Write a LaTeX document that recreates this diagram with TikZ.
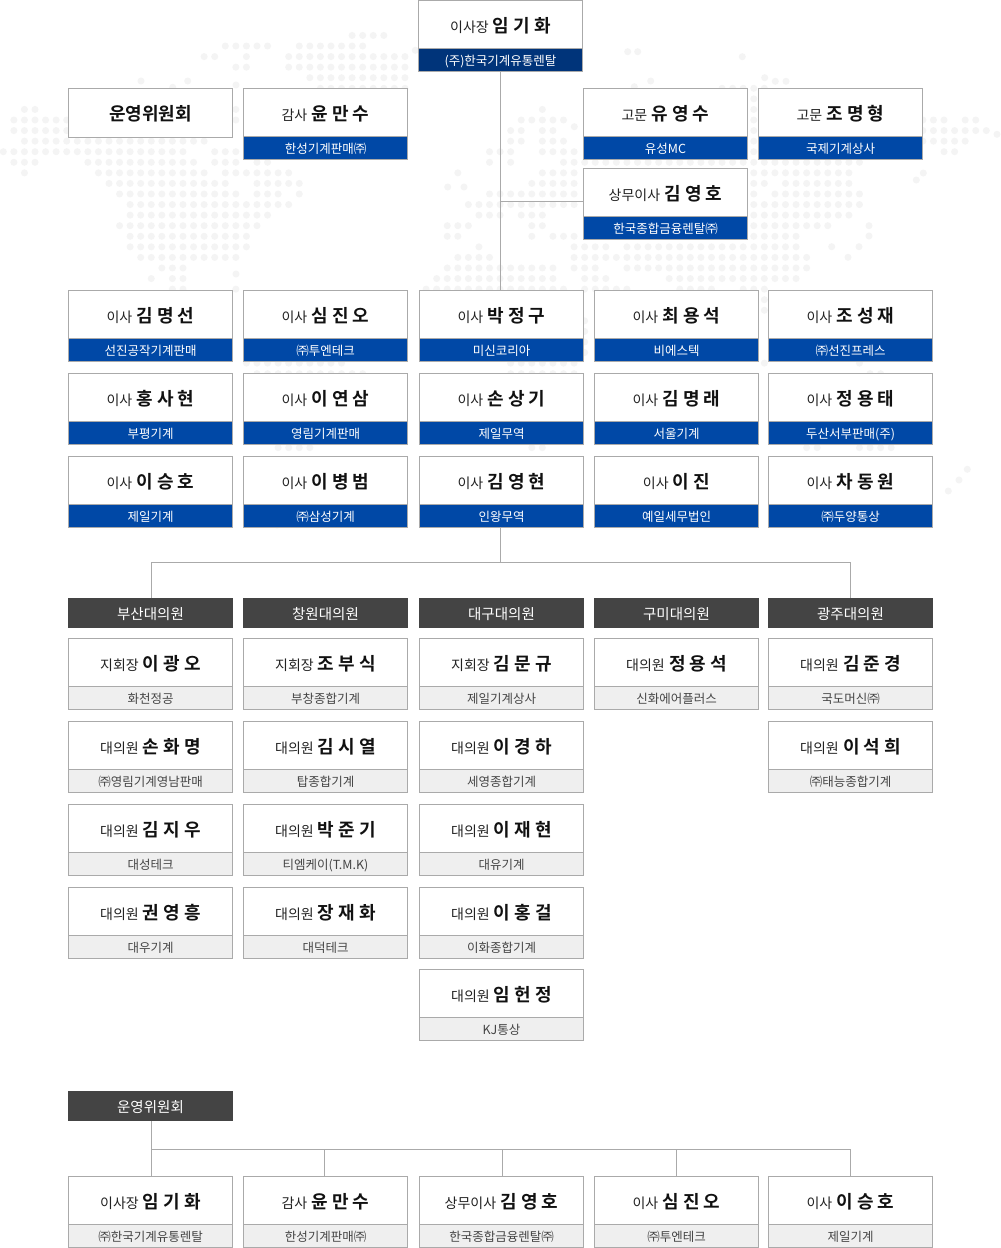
\documentclass[tikz,border=0pt]{standalone}
\usepackage{fontspec}
\setmainfont{Noto Sans CJK KR}
\newfontfamily\krbold{Noto Sans CJK KR Bold}
\definecolor{edgegray}{HTML}{AAAAAA}
\definecolor{dotgray}{HTML}{F4F4F4}
\definecolor{navy}{HTML}{00347A}
\definecolor{royal}{HTML}{0048A6}
\definecolor{darkhead}{HTML}{444444}
\definecolor{paleband}{HTML}{EFEFEF}
\definecolor{nameink}{HTML}{111111}
\definecolor{titleink}{HTML}{222222}
\definecolor{paleink}{HTML}{444444}
\tikzset{
  bodybox/.style={draw=edgegray,line width=1pt,fill=white,minimum width=164pt,minimum height=48pt,inner sep=0pt,outer sep=0pt,anchor=north west,text=nameink,text height=17.2pt,text depth=1pt},
  bandbox/.style={draw=edgegray,line width=1pt,minimum width=164pt,minimum height=23pt,inner sep=0pt,outer sep=0pt,anchor=north west,font=\fontsize{12.5}{14}\selectfont,text height=10.5pt,text depth=0.5pt},
  blueband/.style={bandbox,fill=royal,text=white},
  navyband/.style={bandbox,fill=navy,text=white},
  paleband/.style={bandbox,fill=paleband,text=paleink},
  headbox/.style={fill=darkhead,text=white,minimum width=165pt,minimum height=30pt,inner sep=0pt,outer sep=0pt,anchor=north west,font=\fontsize{14.5}{16}\selectfont,text height=13pt,text depth=0pt},
  wire/.style={draw=edgegray,line width=1pt},
  x=1pt,y=-1pt
}
\newcommand{\personbox}[7]{%
  \node[bodybox] (#1) at (#2,#3) {\textcolor{titleink}{\fontsize{14}{18}\selectfont #4}\hspace{4.2pt}{\fontsize{18}{18}\selectfont\krbold #5}};
  \node[#7] (#1-s) at (#1.south west) {#6};
}
\begin{document}
\begin{tikzpicture}
\useasboundingbox (0,0) rectangle (1001,1248);
\fill[white] (0,0) rectangle (1001,1248);
% world-map dots
\foreach \r/\a/\b in {-8/33/36,-7/21/25,-7/28/34,-6/19/20,-6/23/23,-6/27/38,-5/22/23,-5/27/38,-4/29/38,-3/30/38,-3/68/72,-2/71/71,
 -1/2/3,-1/22/22,-1/51/51,-1/71/71,0/1/6,0/22/22,0/49/53,0/71/71,0/87/89,0/91/92,
 1/1/6,1/48/49,1/51/52,1/71/71,1/87/93,2/2/19,2/48/49,2/51/53,2/71/71,2/87/91,
 3/0/17,3/20/22,3/46/48,3/51/54,3/71/71,3/89/90,
 4/1/3,4/8/18,4/20/22,4/24/25,4/46/46,4/48/48,4/53/81,
 5/2/2,5/9/19,5/21/27,5/43/43,5/51/54,5/71/80,
 6/10/21,6/24/28,6/50/54,6/71/72,6/74/80,
 7/11/22,7/24/26,7/28/28,7/46/54,7/71/71,7/73/81,
 8/12/27,8/44/54,8/71/81,9/12/25,9/45/47,9/49/51,9/71/80,
 10/11/24,10/42/44,10/50/51,10/71/78,11/12/23,11/42/43,11/50/50,11/52/54,11/71/75,
 12/12/23,12/45/45,12/54/57,12/59/75,13/13/22,13/43/46,13/54/76,
 14/15/17,14/42/52,14/54/56,14/59/76,15/14/14,15/16/17,15/41/52,15/55/57,15/63/75,
 16/16/17,16/22/22,16/40/53,16/55/59,16/64/67,16/70/72,
 17/72/72,18/72/72,19/55/55,20/55/55,21/55/55,22/55/55,
 23/23/32,23/48/54,23/72/72,23/81/81,24/24/34,24/48/54,24/82/83,
 31/26/29,31/50/51,31/76/77,31/81/84}{
  \foreach \k in {\a,...,\b}{
    \fill[dotgray] ({3.3+10.57*\k},{120+10.57*\r}) circle[radius=3.5pt];
  }
}
\foreach \px/\py in {141/81,187.7/81,236/85,172.7/87.3,415.3/50.3,627.7/51.7,637.7/51.7,650.7/81,634.3/86.7,742.3/56.7,764.7/77.7,775.3/81.3,786/81.3,574.3/126.7,447.7/187,464/187,236/274,923.3/173,916.3/180,997/134.3,869/225.7,869/236,831.7/246.7,859/246.7,848/257.3,967.3/469.3,959/480,948.3/491,277/525}{
  \fill[dotgray] (\px,\py) circle[radius=3.5pt];
}
% top group
\personbox{chair}{418.5}{0.5}{이사장}{임 기 화}{(주)한국기계유통렌탈}{navyband}
\node[bodybox,minimum height=49pt,text height=16pt,text depth=1.4pt] (opsbox) at (68.5,88.5) {\fontsize{18}{18}\selectfont\krbold 운영위원회};
\personbox{audit}{243.5}{88.5}{감사}{윤 만 수}{한성기계판매㈜}{blueband}
\personbox{advA}{583.5}{88.5}{고문}{유 영 수}{유성MC}{blueband}
\personbox{advB}{758.5}{88.5}{고문}{조 명 형}{국제기계상사}{blueband}
\personbox{exec}{583.5}{168.5}{상무이사}{김 영 호}{한국종합금융렌탈㈜}{blueband}
% directors
\personbox{d11}{68.5}{290.5}{이사}{김 명 선}{선진공작기계판매}{blueband}
\personbox{d12}{243.5}{290.5}{이사}{심 진 오}{㈜투엔테크}{blueband}
\personbox{d13}{419.5}{290.5}{이사}{박 정 구}{미신코리아}{blueband}
\personbox{d14}{594.5}{290.5}{이사}{최 용 석}{비에스텍}{blueband}
\personbox{d15}{768.5}{290.5}{이사}{조 성 재}{㈜선진프레스}{blueband}
\personbox{d21}{68.5}{373.5}{이사}{홍 사 현}{부평기계}{blueband}
\personbox{d22}{243.5}{373.5}{이사}{이 연 삼}{영림기계판매}{blueband}
\personbox{d23}{419.5}{373.5}{이사}{손 상 기}{제일무역}{blueband}
\personbox{d24}{594.5}{373.5}{이사}{김 명 래}{서울기계}{blueband}
\personbox{d25}{768.5}{373.5}{이사}{정 용 태}{두산서부판매(주)}{blueband}
\personbox{d31}{68.5}{456.5}{이사}{이 승 호}{제일기계}{blueband}
\personbox{d32}{243.5}{456.5}{이사}{이 병 범}{㈜삼성기계}{blueband}
\personbox{d33}{419.5}{456.5}{이사}{김 영 현}{인왕무역}{blueband}
\personbox{d34}{594.5}{456.5}{이사}{이 진}{예일세무법인}{blueband}
\personbox{d35}{768.5}{456.5}{이사}{차 동 원}{㈜두양통상}{blueband}
% regional headers
\node[headbox] (h1) at (68,598) {부산대의원};
\node[headbox] (h2) at (243,598) {창원대의원};
\node[headbox] (h3) at (419,598) {대구대의원};
\node[headbox] (h4) at (594,598) {구미대의원};
\node[headbox] (h5) at (768,598) {광주대의원};
% delegates
\personbox{r11}{68.5}{638.5}{지회장}{이 광 오}{화천정공}{paleband}
\personbox{r12}{243.5}{638.5}{지회장}{조 부 식}{부창종합기계}{paleband}
\personbox{r13}{419.5}{638.5}{지회장}{김 문 규}{제일기계상사}{paleband}
\personbox{r14}{594.5}{638.5}{대의원}{정 용 석}{신화에어플러스}{paleband}
\personbox{r15}{768.5}{638.5}{대의원}{김 준 경}{국도머신㈜}{paleband}
\personbox{r21}{68.5}{721.5}{대의원}{손 화 명}{㈜영림기계영남판매}{paleband}
\personbox{r22}{243.5}{721.5}{대의원}{김 시 열}{탑종합기계}{paleband}
\personbox{r23}{419.5}{721.5}{대의원}{이 경 하}{세영종합기계}{paleband}
\personbox{r25}{768.5}{721.5}{대의원}{이 석 희}{㈜태능종합기계}{paleband}
\personbox{r31}{68.5}{804.5}{대의원}{김 지 우}{대성테크}{paleband}
\personbox{r32}{243.5}{804.5}{대의원}{박 준 기}{티엠케이(T.M.K)}{paleband}
\personbox{r33}{419.5}{804.5}{대의원}{이 재 현}{대유기계}{paleband}
\personbox{r41}{68.5}{887.5}{대의원}{권 영 흥}{대우기계}{paleband}
\personbox{r42}{243.5}{887.5}{대의원}{장 재 화}{대덕테크}{paleband}
\personbox{r43}{419.5}{887.5}{대의원}{이 홍 걸}{이화종합기계}{paleband}
\personbox{r53}{419.5}{969.5}{대의원}{임 헌 정}{KJ통상}{paleband}
% operating committee
\node[headbox] (ops) at (68,1091) {운영위원회};
\personbox{o1}{68.5}{1176.5}{이사장}{임 기 화}{㈜한국기계유통렌탈}{paleband}
\personbox{o2}{243.5}{1176.5}{감사}{윤 만 수}{한성기계판매㈜}{paleband}
\personbox{o3}{419.5}{1176.5}{상무이사}{김 영 호}{한국종합금융렌탈㈜}{paleband}
\personbox{o4}{594.5}{1176.5}{이사}{심 진 오}{㈜투엔테크}{paleband}
\personbox{o5}{768.5}{1176.5}{이사}{이 승 호}{제일기계}{paleband}
% connectors
\coordinate (trunk) at (500.5,201.5);
\coordinate (busL) at (151.5,562.5);
\coordinate (busM) at (500.5,562.5);
\coordinate (busR) at (850.5,562.5);
\coordinate (opsL) at (151.5,1149.5);
\coordinate (opsB) at (324.5,1149.5);
\coordinate (opsC) at (502.5,1149.5);
\coordinate (opsD) at (676.5,1149.5);
\coordinate (opsR) at (850.5,1149.5);
\draw[wire] (trunk |- chair-s.south) -- (trunk |- d13.north);
\draw[wire] (trunk) -- (trunk -| exec.west);
\draw[wire] (busM |- d33-s.south) -- (busM);
\draw[wire] (busL |- h1.north) -- (busL) -- (busR) -- (busR |- h5.north);
\draw[wire] (opsL |- ops.south) -- (opsL |- o1.north);
\draw[wire] (opsL) -- (opsR) -- (opsR |- o5.north);
\draw[wire] (opsB) -- (opsB |- o2.north);
\draw[wire] (opsC) -- (opsC |- o3.north);
\draw[wire] (opsD) -- (opsD |- o4.north);
\end{tikzpicture}
\end{document}
